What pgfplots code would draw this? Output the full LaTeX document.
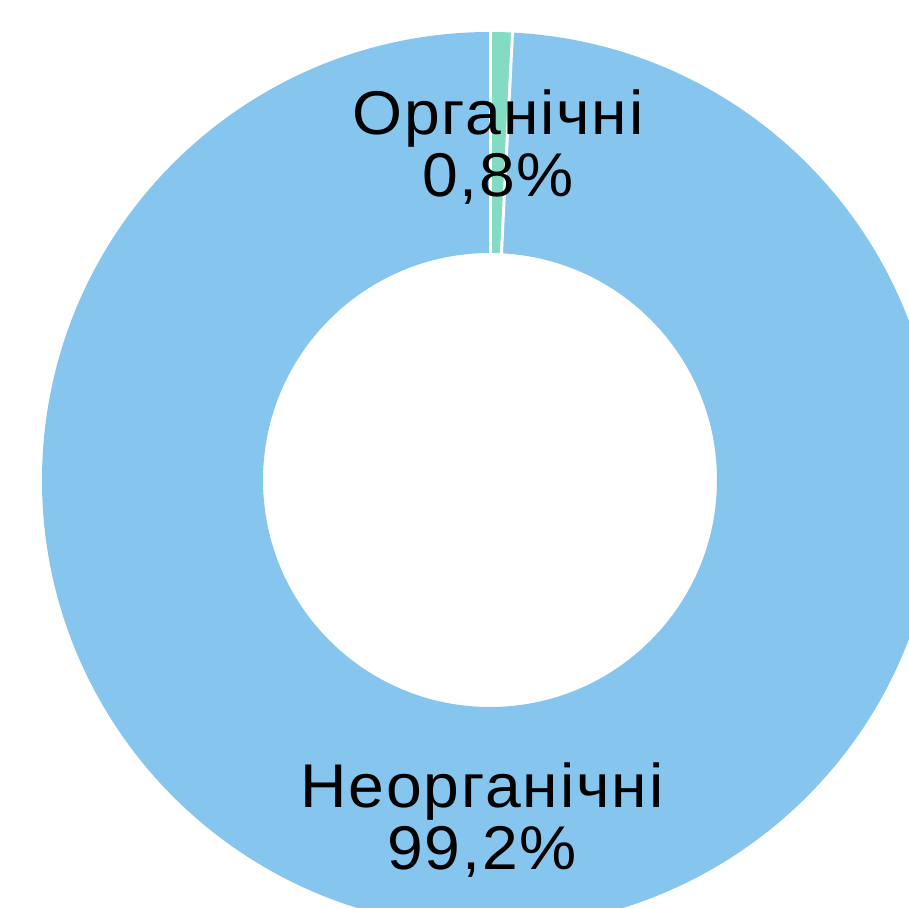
\documentclass[border=0pt]{standalone}
\usepackage{fontspec}
\setmainfont{Liberation Sans}[FakeStretch=1.04,LetterSpace=3]
\usepackage{pgfplots}
\pgfplotsset{compat=1.18}
\usepackage{pgfplotstable}
\usetikzlibrary{calc}
\definecolor{blueS}{HTML}{86C6EE}
\definecolor{greenS}{HTML}{84DBC4}
\pgfplotstableread{
idx value
0 0.8
1 99.2
}\piedata
\begin{document}
\begin{tikzpicture}
\pgfplotstablegetelem{0}{value}\of\piedata \let\va\pgfplotsretval
\pgfplotstablegetelem{1}{value}\of\piedata \let\vb\pgfplotsretval
\pgfmathsetmacro\aA{90}
\pgfmathsetmacro\aB{90-3.6*\va}
\pgfmathsetmacro\aC{\aB-3.6*\vb}
\begin{axis}[x=1bp,y=1bp,xmin=0,xmax=908,ymin=0,ymax=908,hide axis,clip=false]
\coordinate (c) at (axis cs:490,428);
\coordinate (bl) at (axis cs:0,0);
\coordinate (tr) at (axis cs:908,908);
\fill[blueS] ($(c)+(\aB:448bp)$) arc[start angle=\aB,end angle=\aC,radius=448bp] -- ($(c)+(\aC:227bp)$) arc[start angle=\aC,end angle=\aB,radius=227bp] -- cycle;
\fill[greenS] ($(c)+(\aA:448bp)$) arc[start angle=\aA,end angle=\aB,radius=448bp] -- ($(c)+(\aB:227bp)$) arc[start angle=\aB,end angle=\aA,radius=227bp] -- cycle;
\draw[white,line width=3bp] ($(c)+(\aA:226bp)$) -- ($(c)+(\aA:449bp)$);
\draw[white,line width=3bp] ($(c)+(\aB:226bp)$) -- ($(c)+(\aB:449bp)$);
\node[anchor=base,font=\fontsize{62}{70}\selectfont,text=black,inner sep=0pt] at (axis cs:498,773) {Органічні};
\node[anchor=base,font=\fontsize{62}{70}\selectfont,text=black,inner sep=0pt] at (axis cs:498,711) {0,8\%};
\node[anchor=base,font=\fontsize{62}{70}\selectfont,text=black,inner sep=0pt] at (axis cs:482,100) {Неорганічні};
\node[anchor=base,font=\fontsize{62}{70}\selectfont,text=black,inner sep=0pt] at (axis cs:482,38) {99,2\%};
\end{axis}
\pgfresetboundingbox
\path[use as bounding box] (bl) rectangle (tr);
\end{tikzpicture}
\end{document}
